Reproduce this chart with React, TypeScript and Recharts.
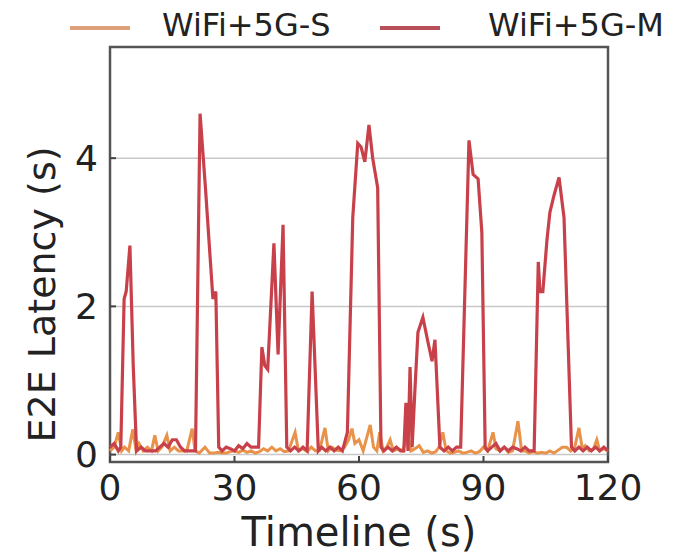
import { LineChart, Line, XAxis, YAxis, CartesianGrid, Legend, ReferenceArea } from 'recharts';

const sTimes = [0, 1, 2, 2.8, 3.5, 4.5, 5.5, 6.3, 7, 8, 9, 10, 10.8, 11.6, 12.5, 13.7, 14.5, 15.5, 16.5, 17.5, 18.5, 19.8, 20.5, 21.5, 22.9, 24, 25, 26, 27, 28, 29, 30, 31, 32, 33, 34, 35, 36, 37, 38, 39, 40, 41, 42, 43, 44.6, 45.4, 46.5, 47.5, 48.5, 49.5, 50.5, 51.8, 52.6, 53.5, 54.5, 55.5, 56.5, 57.5, 58.3, 59, 60, 61, 62.7, 63.5, 64.3, 65, 65.8, 66.7, 67.5, 68.3, 69.5, 70.5, 71.8, 72.5, 73.5, 74.5, 75.5, 76.5, 77.5, 78.5, 79.3, 80.2, 81, 82, 83, 84, 85, 86, 87, 88, 89, 90, 91, 92.3, 93, 94, 95, 96, 97, 98.3, 99.2, 100, 101, 102, 103, 104, 105, 106, 107, 108, 109, 110, 111, 112, 113, 113.8, 114.5, 115.5, 116.5, 117.3, 118, 119, 120];
const sValues = [0.05, 0.1, 0.3, 0.05, 0.1, 0.05, 0.34, 0.05, 0.15, 0.05, 0.1, 0.05, 0.26, 0.05, 0.1, 0.26, 0.05, 0.1, 0.05, 0.05, 0.05, 0.35, 0.05, 0.02, 0.1, 0.02, 0.02, 0.03, 0.02, 0.02, 0.04, 0.05, 0.03, 0.06, 0.03, 0.05, 0.02, 0.04, 0.08, 0.05, 0.1, 0.05, 0.08, 0.04, 0.05, 0.3, 0.05, 0.08, 0.04, 0.1, 0.05, 0.06, 0.36, 0.05, 0.1, 0.06, 0.05, 0.1, 0.2, 0.35, 0.15, 0.2, 0.05, 0.4, 0.1, 0.05, 0.3, 0.05, 0.1, 0.2, 0.05, 0.08, 0.05, 0.25, 0.05, 0.08, 0.12, 0.03, 0.05, 0.02, 0.04, 0.1, 0.3, 0.05, 0.02, 0.03, 0.05, 0.02, 0.03, 0.05, 0.02, 0.04, 0.1, 0.05, 0.3, 0.08, 0.05, 0.1, 0.03, 0.05, 0.45, 0.05, 0.05, 0.02, 0.04, 0.02, 0.03, 0.02, 0.05, 0.02, 0.06, 0.1, 0.1, 0.05, 0.1, 0.36, 0.08, 0.12, 0.05, 0.08, 0.2, 0.05, 0.08, 0.05];

const mTimes = [0, 1, 2, 2.6, 3.4, 3.9, 4.8, 5.6, 6.4, 7.5, 8.5, 10, 11, 12, 13, 14, 15, 16, 17, 18, 19, 20.6, 21.7, 23, 24.8, 25.5, 26.2, 27, 28, 29, 30, 31, 32, 33, 34, 35, 35.8, 36.6, 37.3, 38, 39.5, 40.5, 41.7, 42.6, 43.5, 44.5, 45.5, 46.5, 47.5, 48.7, 50.2, 51, 52, 53, 54, 55, 56, 57.2, 58.5, 59.7, 60.5, 61.4, 62.4, 63.3, 64.5, 65.3, 66, 67, 68, 69, 70, 70.8, 71.3, 71.8, 72.3, 72.8, 73.5, 74.2, 75.4, 76.5, 77.6, 78.3, 79.5, 80.5, 81.5, 82.5, 83.5, 84.5, 86.5, 87.5, 88.7, 89.6, 90.4, 91, 92, 93, 94, 95, 96, 97, 98, 99, 100, 101, 102.2, 103.2, 103.6, 104.3, 105.3, 106, 107, 108.2, 109.4, 111.2, 112, 113, 114, 115, 116, 117, 118, 119, 120];
const mValues = [0.1, 0.15, 0.05, 0.1, 2.1, 2.2, 2.82, 1.2, 0.05, 0.1, 0.05, 0.05, 0.05, 0.1, 0.15, 0.1, 0.2, 0.2, 0.1, 0.05, 0.05, 0.05, 4.6, 3.6, 2.1, 2.2, 0.1, 0.05, 0.1, 0.08, 0.05, 0.12, 0.08, 0.15, 0.1, 0.1, 0.1, 1.45, 1.2, 1.15, 2.85, 1.35, 3.1, 0.1, 0.05, 0.1, 0.05, 0.1, 0.05, 2.2, 0.05, 0.1, 0.05, 0.1, 0.05, 0.1, 0.05, 0.3, 3.2, 4.2, 4.15, 3.95, 4.45, 4.0, 3.6, 0.1, 0.05, 0.1, 0.05, 0.1, 0.05, 0.05, 0.7, 0.05, 1.18, 0.1, 0.9, 1.65, 1.85, 1.55, 1.26, 1.55, 0.1, 0.05, 0.1, 0.05, 0.1, 0.1, 4.24, 3.78, 3.72, 3.0, 0.1, 0.05, 0.1, 0.15, 0.05, 0.1, 0.05, 0.1, 0.08, 0.05, 0.1, 0.05, 0.05, 2.6, 2.2, 2.2, 2.9, 3.27, 3.5, 3.74, 3.2, 0.1, 0.05, 0.1, 0.05, 0.1, 0.05, 0.1, 0.05, 0.1, 0.05];

const xTicks = [0, 30, 60, 90, 120];
const yTicks = [0, 2, 4];

const seriesS = sTimes.map((t, i) => ({ t, v: sValues[i] }));
const seriesM = mTimes.map((t, i) => ({ t, v: mValues[i] }));

const FONT = '"DejaVu Sans", sans-serif';
const COLOR_S = '#E8924A';
const COLOR_M = '#C8414A';

const renderLegend = () => (
  <div style={{ height: 42, position: 'relative', fontFamily: FONT, fontSize: 32, color: '#222' }}>
    <div style={{ position: 'absolute', left: 70, top: 26, width: 60, height: 4, background: '#DDA07A' }} />
    <span style={{ position: 'absolute', left: 162, top: 6 }}>WiFi+5G-S</span>
    <div style={{ position: 'absolute', left: 380, top: 26, width: 60, height: 4, background: '#B8505A' }} />
    <span style={{ position: 'absolute', left: 488, top: 6 }}>WiFi+5G-M</span>
  </div>
);

export default function App() {
  return (
    <div style={{ position: 'absolute', left: 0, top: 0, background: '#fff' }}>
      <LineChart width={677} height={554} margin={{ top: 5, right: 69, bottom: 0, left: 0 }}>
        <Legend verticalAlign="top" align="left" content={renderLegend} wrapperStyle={{ left: 0, top: 0, width: 677 }} />
        <CartesianGrid vertical={false} stroke="#c8c8c8" strokeWidth={1.5} />
        <XAxis
          type="number"
          dataKey="t"
          domain={[0, 120]}
          ticks={xTicks}
          height={92}
          tickSize={-6}
          tickMargin={18}
          axisLine={false}
          tickLine={{ stroke: '#444', strokeWidth: 2 }}
          tick={{ fontFamily: FONT, fontSize: 36, fill: '#222' }}
          label={{ value: 'Timeline (s)', position: 'insideBottom', offset: 8, style: { fontFamily: FONT, fontSize: 40, fill: '#222' } }}
        />
        <YAxis
          type="number"
          domain={[-0.1, 5.5]}
          ticks={yTicks}
          width={110}
          tickSize={-6}
          tickMargin={18}
          axisLine={false}
          tickLine={{ stroke: '#444', strokeWidth: 2 }}
          tick={{ fontFamily: FONT, fontSize: 36, fill: '#222' }}
          label={{ value: 'E2E Latency (s)', angle: -90, position: 'insideLeft', offset: 42, dy: 40, style: { fontFamily: FONT, fontSize: 38, fill: '#222', textAnchor: 'middle' } }}
        />
        <Line data={seriesS} dataKey="v" type="linear" stroke={COLOR_S} strokeWidth={3} dot={false} isAnimationActive={false} />
        <Line data={seriesM} dataKey="v" type="linear" stroke={COLOR_M} strokeWidth={3.2} dot={false} isAnimationActive={false} />
        <ReferenceArea x1={0} x2={120} y1={-0.1} y2={5.5} fill="none" stroke="#555" strokeWidth={2.5} />
      </LineChart>
    </div>
  );
}
